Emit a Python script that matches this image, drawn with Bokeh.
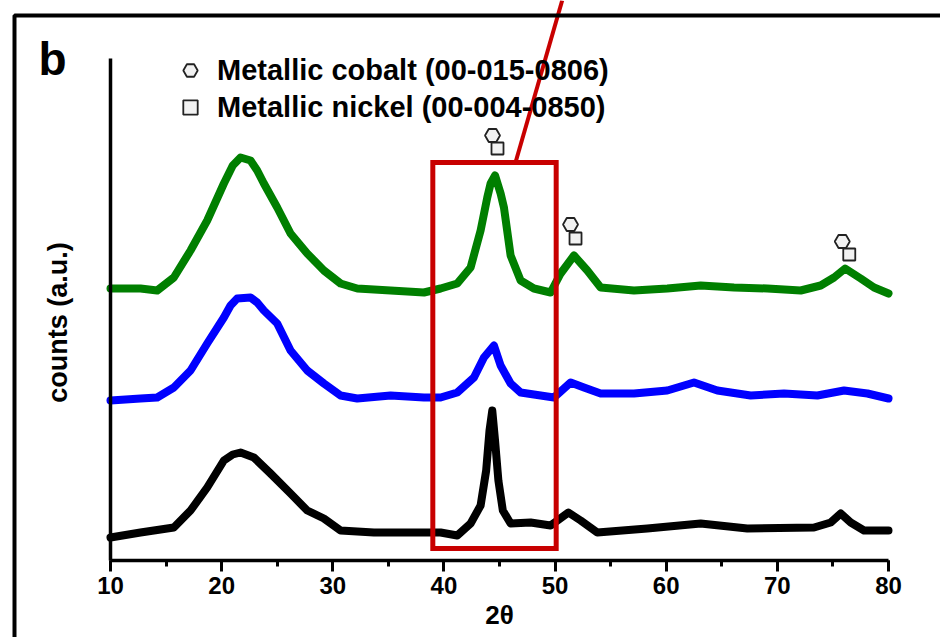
import math
from bokeh.plotting import figure
from bokeh.models import (Range1d, SingleIntervalTicker, Legend, LegendItem, Label,
                          BoxAnnotation, FixedTicker)
from bokeh.embed import file_html
from bokeh.resources import INLINE

# ---------------- data ----------------
green_2theta = [10, 12.7, 14.2, 15.7, 17.2, 18.7, 20.2, 21.0, 21.7, 22.6, 23.2, 23.8,
                25.0, 26.2, 27.7, 29.2, 30.7, 32.2, 35.2, 38.2, 39.7, 41.2,
                42.4, 43.3, 43.9, 44.2, 44.6, 45.1, 45.4, 46.0, 46.9, 48.1,
                49.6, 50.5, 51.7, 52.9, 54.1, 57.1, 60.1, 63.1, 66.1, 69.1,
                72.1, 73.9, 75.1, 76.1, 77.5, 78.7, 80]
green_counts = [272, 272, 270, 283, 310, 340, 377, 395, 403, 400, 390, 377,
                353, 327, 307, 290, 277, 272, 270, 268, 272, 277,
                293, 330, 363, 377, 385, 367, 353, 305, 280, 272,
                268, 287, 305, 290, 273, 270, 272, 275, 273, 272,
                270, 275, 283, 292, 282, 273, 267]

blue_2theta = [10, 12.7, 14.2, 15.7, 17.2, 18.7, 20.2, 20.8, 21.4, 22.6, 23.2, 23.8,
               25.0, 26.2, 27.7, 29.2, 30.7, 32.2, 35.2, 38.2, 39.7, 41.2,
               42.7, 43.6, 44.5, 45.1, 46.0, 46.9, 48.7, 49.9, 51.4, 52.6,
               54.1, 57.1, 60.1, 62.5, 64.6, 67.6, 70.6, 73.6, 76.0, 78.1, 80]
blue_counts = [160, 162, 163, 173, 190, 217, 243, 255, 262, 263, 258, 250,
               237, 210, 190, 177, 165, 162, 165, 163, 163, 168,
               183, 203, 215, 195, 177, 168, 165, 163, 178, 173,
               167, 167, 170, 178, 170, 165, 167, 165, 170, 167, 162]

black_2theta = [10, 12.7, 15.7, 17.2, 18.7, 20.2, 21.0, 21.7, 22.9, 24.4, 26.2,
                27.7, 29.2, 30.7, 33.7, 36.7, 39.7, 41.2, 42.4, 43.3, 43.8,
                44.1, 44.35, 44.6, 44.9, 45.3, 46.0, 47.8, 49.6, 51.2, 52.3,
                53.8, 58.3, 63.1, 67.3, 73.3, 74.8, 75.7, 76.6, 77.8, 80]
black_counts = [23, 28, 33, 50, 73, 100, 106, 108, 103, 87, 67,
                50, 42, 30, 28, 28, 28, 25, 37, 55, 90,
                130, 150, 120, 80, 50, 37, 38, 35, 48, 40,
                28, 32, 37, 32, 33, 38, 47, 38, 30, 30]

# phase markers above the green pattern
cobalt_2theta = [44.37, 51.39, 75.84]
cobalt_counts = [425, 336, 319]
nickel_2theta = [44.82, 51.84, 76.47]
nickel_counts = [412, 322, 306]

# highlighted window (zoom box) and its leader line
box_2theta = [39.0, 50.1]
box_counts = [12, 398]
leader_2theta = [46.44, 50.64]
leader_counts = [398, 560]

x_axis_bounds = (10, 80)
y_axis_bounds = (0, 502)
x_ticks_interval = 10
legend_labels = ["Metallic cobalt (00-015-0806)", "Metallic nickel (00-004-0850)"]

FONT = "Liberation Sans"
GREEN = "#007f00"
BLUE = "#0000ff"
RED = "#c80000"

# the plotting frame covers the whole canvas; axes sit at fixed data locations
SCALE = 778 / 70.0
X0 = 10 - 110 / SCALE
X1 = 80 + 52 / SCALE

p = figure(width=940, height=637, x_range=Range1d(X0, X1), y_range=Range1d(-77, 560),
           output_backend="svg", toolbar_location=None,
           min_border_left=0, min_border_right=0, min_border_top=0, min_border_bottom=0)
p.outline_line_color = None
p.xgrid.visible = False
p.ygrid.visible = False
p.background_fill_color = "white"
p.border_fill_color = "white"

# curves
for xs, ys, c in [(green_2theta, green_counts, GREEN),
                  (blue_2theta, blue_counts, BLUE),
                  (black_2theta, black_counts, "black")]:
    p.line(xs, ys, line_color=c, line_width=8, line_join="round", line_cap="round")

# red zoom box and leader line
p.quad(left=[box_2theta[0]], right=[box_2theta[1]], bottom=[box_counts[0]], top=[box_counts[1]],
       fill_alpha=0, line_color=RED, line_width=5, line_join="miter")
p.line(leader_2theta, leader_counts, line_color=RED, line_width=4)

# phase markers
hex_r = p.scatter(cobalt_2theta, cobalt_counts, marker="hex", size=15,
                  fill_color="#f2f2f2", line_color="#222222", line_width=1.8)
sq_r = p.scatter(nickel_2theta, nickel_counts, marker="square", size=12,
                 fill_color="#f2f2f2", line_color="#222222", line_width=1.8)

legend = Legend(items=[LegendItem(label=legend_labels[0], renderers=[hex_r]),
                       LegendItem(label=legend_labels[1], renderers=[sq_r])],
                location=(172, 512), orientation="vertical",
                glyph_width=36, glyph_height=36, label_standoff=9, spacing=1,
                padding=0, margin=0, border_line_color=None, background_fill_alpha=0,
                label_text_font=FONT, label_text_font_style="bold",
                label_text_font_size="29px", label_text_color="black")
p.add_layout(legend)

# axes
xa = p.xaxis[0]
xa.fixed_location = 0
xa.bounds = x_axis_bounds
xa.ticker = SingleIntervalTicker(interval=x_ticks_interval, num_minor_ticks=2)
xa.axis_line_width = 3.5
xa.major_tick_line_width = 3
xa.minor_tick_line_width = 3
xa.major_tick_in = 0
xa.major_tick_out = 11
xa.minor_tick_in = 0
xa.minor_tick_out = 6
xa.major_label_text_font = FONT
xa.major_label_text_font_style = "bold"
xa.major_label_text_font_size = "24px"
xa.major_label_text_color = "black"
xa.major_label_standoff = 5
xa.axis_label = "2θ"
xa.axis_label_text_font = FONT
xa.axis_label_text_font_style = "bold"
xa.axis_label_text_font_size = "26px"
xa.axis_label_text_color = "black"
xa.axis_label_standoff = 3

ya = p.yaxis[0]
ya.fixed_location = 10
ya.ticker = FixedTicker(ticks=[])
ya.axis_line_width = 3.5
ya.bounds = y_axis_bounds
ya.major_tick_line_color = None
ya.minor_tick_line_color = None

# y label, panel letter, outer frame
p.add_layout(Label(x=X0 + 57 / SCALE, y=238, text="counts (a.u.)", angle=math.pi / 2,
                   text_align="center", text_baseline="middle", text_color="black",
                   text_font=FONT, text_font_style="bold", text_font_size="27px"))
p.add_layout(Label(x=X0 + 38 / SCALE, y=502, text="b", text_align="left",
                   text_baseline="alphabetic", text_color="black",
                   text_font=FONT, text_font_style="bold", text_font_size="46px"))
p.add_layout(BoxAnnotation(left=X0 + 14 / SCALE, right=X1 + 20, top=545, bottom=-200,
                           fill_alpha=0, line_color="black", line_alpha=1, line_width=4))

open("out.html", "w").write(file_html(p, INLINE))
